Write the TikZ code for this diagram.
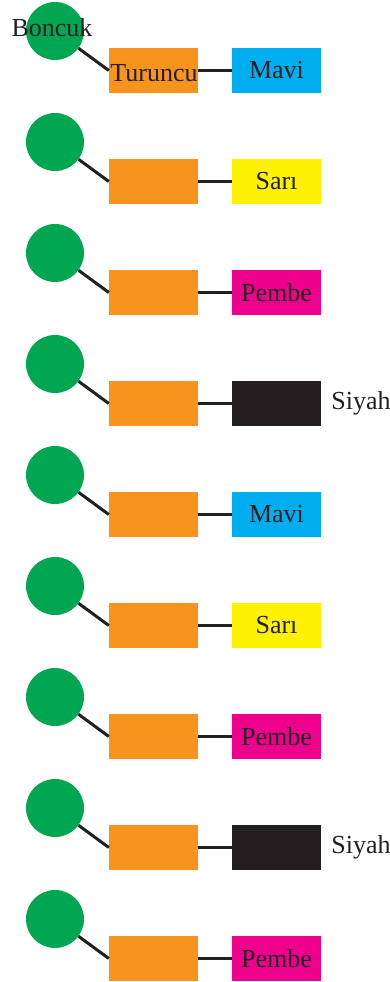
\documentclass[tikz,border=0pt]{standalone}
\usepackage{fontspec}
\setmainfont{Liberation Serif}
\usepackage{tikz}

\definecolor{boncukyesil}{HTML}{00A651}
\definecolor{turuncu}{HTML}{F7941D}
\definecolor{mavi}{HTML}{00AEEF}
\definecolor{sari}{HTML}{FFF200}
\definecolor{pembe}{HTML}{EC008C}
\definecolor{siyah}{HTML}{231F20}

\begin{document}
\begin{tikzpicture}[x=1pt,y=-1pt]
\tikzset{
  every node/.style={inner sep=0pt, text=siyah, font=\fontsize{26}{26}\selectfont},
  boncuk/.style={circle, fill=boncukyesil, minimum size=58pt},
  kutu/.style={rectangle, minimum width=89pt, minimum height=45pt},
  ip/.style={siyah, line width=3pt}
}
\useasboundingbox (0,0) rectangle (390,982);
\foreach \i/\renk/\ic/\dis in {0/mavi/Mavi/{}, 1/sari/Sarı/{}, 2/pembe/Pembe/{},
    3/siyah/{}/Siyah, 4/mavi/Mavi/{}, 5/sari/Sarı/{}, 6/pembe/Pembe/{},
    7/siyah/{}/Siyah, 8/pembe/Pembe/{}} {
  \node [boncuk] (b\i) at (55,31+111*\i) {};
  \node [kutu, fill=turuncu] (t\i) at (153.5,70.5+111*\i) {};
  \node [kutu, fill=\renk] (r\i) at (276.5,70.5+111*\i) {\ic};
  \node [anchor=west] (d\i) at ([xshift=10pt]r\i.east) {\dis};
  \draw [ip] (b\i) -- (t\i.west);
  \draw [ip] (t\i.east) -- (r\i.west);
}
% ilk satirin yazilari
\node (boncukyazi) at (52,28) {Boncuk};
\node (turuncuyazi) at (154,73) {Turuncu};
\end{tikzpicture}
\end{document}
